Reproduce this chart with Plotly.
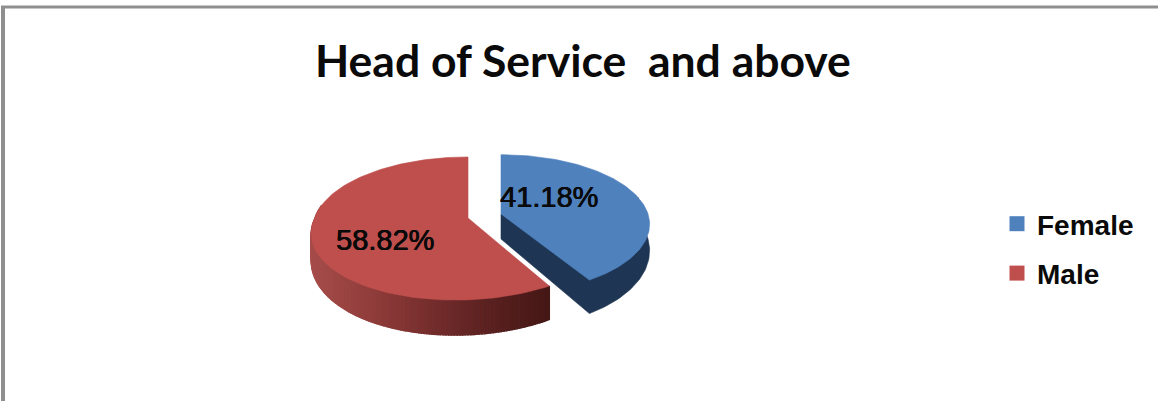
import numpy as np
import plotly.graph_objects as go

categories = ["Female", "Male"]
shares = [41.18, 58.82]
top_colors = ["#4f81bd", "#be4f4c"]
wall_color_female = "#1e3553"
wall_ramp_male = ["#a64d4a", "#913e3c", "#752e2d", "#5a2221", "#451816"]

TITLE = "Head of Service  and above"
TILT = 0.147
FONT_LABEL = "Liberation Sans"
HEAVY = "0.5px 0 0 #0a0a0a, -0.3px 0 0 #0a0a0a"


def project(theta, hub, radius_x, radius_y, skew=0.0, depth=0.0):
    """Map a clockwise-from-north angle on the tilted disc to axis coordinates."""
    east, south = np.sin(theta), -np.cos(theta)
    w = 1 - TILT * south
    x = hub[0] + (radius_x * east + skew * np.maximum(south, 0)) / w
    y = hub[1] + radius_y * south / w + depth * (1 + 0.4 * south)
    return x, y


def pct(value):
    return f"{value:.2f}%"


first_sweep = 2 * np.pi * shares[0] / sum(shares)

fig = go.Figure()


def add_poly(x, y, color, width=0.6):
    fig.add_trace(go.Scatter(x=x, y=y, mode="lines", fill="toself", fillcolor=color,
                             line=dict(color=color, width=width), hoverinfo="skip",
                             showlegend=False))


# Male slice: shaded outer wall as narrow strips, then the top face
male_hub = (468, 218)
male_args = dict(hub=male_hub, radius_x=153, radius_y=70, skew=-11)
male_angles = np.linspace(first_sweep, 1.56 * np.pi, 150)
bx, by = project(male_angles, depth=25, **male_args)
tx, ty = project(male_angles, **male_args)
ramp = np.array([[int(c[i:i + 2], 16) for i in (1, 3, 5)] for c in wall_ramp_male], float)
x_left, x_right = tx.min(), tx.max()
for i in range(len(male_angles) - 1):
    # Shade runs left to right across the wall
    t = ((tx[i] + tx[i + 1]) / 2 - x_left) / (x_right - x_left)
    pos = t * (len(ramp) - 1)
    lo = min(int(pos), len(ramp) - 2)
    rgb = ramp[lo] + (ramp[lo + 1] - ramp[lo]) * (pos - lo)
    add_poly([tx[i], tx[i + 1], bx[i + 1], bx[i], tx[i]],
             [ty[i], ty[i + 1], by[i + 1], by[i], ty[i]],
             "rgb(%d,%d,%d)" % tuple(rgb), width=1.4)
arc = np.linspace(first_sweep, 2 * np.pi, 120)
ax, ay = project(arc, **male_args)
add_poly(np.r_[male_hub[0], ax, male_hub[0]], np.r_[male_hub[1], ay, male_hub[1]], top_colors[1])

# Female slice: dark wall underneath, then the top face
female_hub = (501, 214)
female_args = dict(hub=female_hub, radius_x=147, radius_y=68)
wall_arc = np.linspace(first_sweep, 0.42 * np.pi, 60)
wx, wy = project(wall_arc, depth=25, **female_args)
ex, ey = project(wall_arc[-1], **female_args)
add_poly(np.r_[female_hub[0], female_hub[0], wx, ex, female_hub[0]],
         np.r_[female_hub[1], female_hub[1] + 25, wy, ey, female_hub[1]], wall_color_female)
arc = np.linspace(0, first_sweep, 100)
ax, ay = project(arc, **female_args)
add_poly(np.r_[female_hub[0], ax, female_hub[0]], np.r_[female_hub[1], ay, female_hub[1]], top_colors[0])

# Legend entries
for name, color in zip(categories, top_colors):
    fig.add_trace(go.Scatter(x=[None], y=[None], mode="markers", name=name, legendgroup=name,
                             marker=dict(symbol="square", size=15, color=color)))

for text, x, y in [(pct(shares[0]), 549, 197), (pct(shares[1]), 385, 240)]:
    fig.add_annotation(x=x, y=y, text=text, showarrow=False, xanchor="center", yanchor="middle",
                       font=dict(family=FONT_LABEL, size=29, color="#0a0a0a", shadow=HEAVY))

fig.add_annotation(x=583, y=59, text=TITLE, showarrow=False, xanchor="center", yanchor="middle",
                   font=dict(family="Lato", size=44.5, color="#0a0a0a", weight="bold"))

# Window frame along the top and left edges
fig.add_shape(type="line", x0=1, x1=1158, y0=7, y1=7, line=dict(color="#8f8f8f", width=3))
fig.add_shape(type="line", x0=3, x1=3, y0=6, y1=401, line=dict(color="#8f8f8f", width=4))

fig.update_layout(
    width=1158, height=401, margin=dict(l=0, r=0, t=0, b=0),
    paper_bgcolor="white", plot_bgcolor="white",
    xaxis=dict(range=[0, 1158], visible=False, fixedrange=True),
    yaxis=dict(range=[401, 0], visible=False, fixedrange=True),
    legend=dict(x=997 / 1158, y=1 - 199 / 401, xanchor="left", yanchor="top",
                traceorder="grouped", tracegroupgap=10, bgcolor="rgba(0,0,0,0)",
                font=dict(family=FONT_LABEL, size=28, color="#0a0a0a", weight="bold"),
                itemwidth=30),
)

fig.write_html("out.html", config=dict(displayModeBar=False))
